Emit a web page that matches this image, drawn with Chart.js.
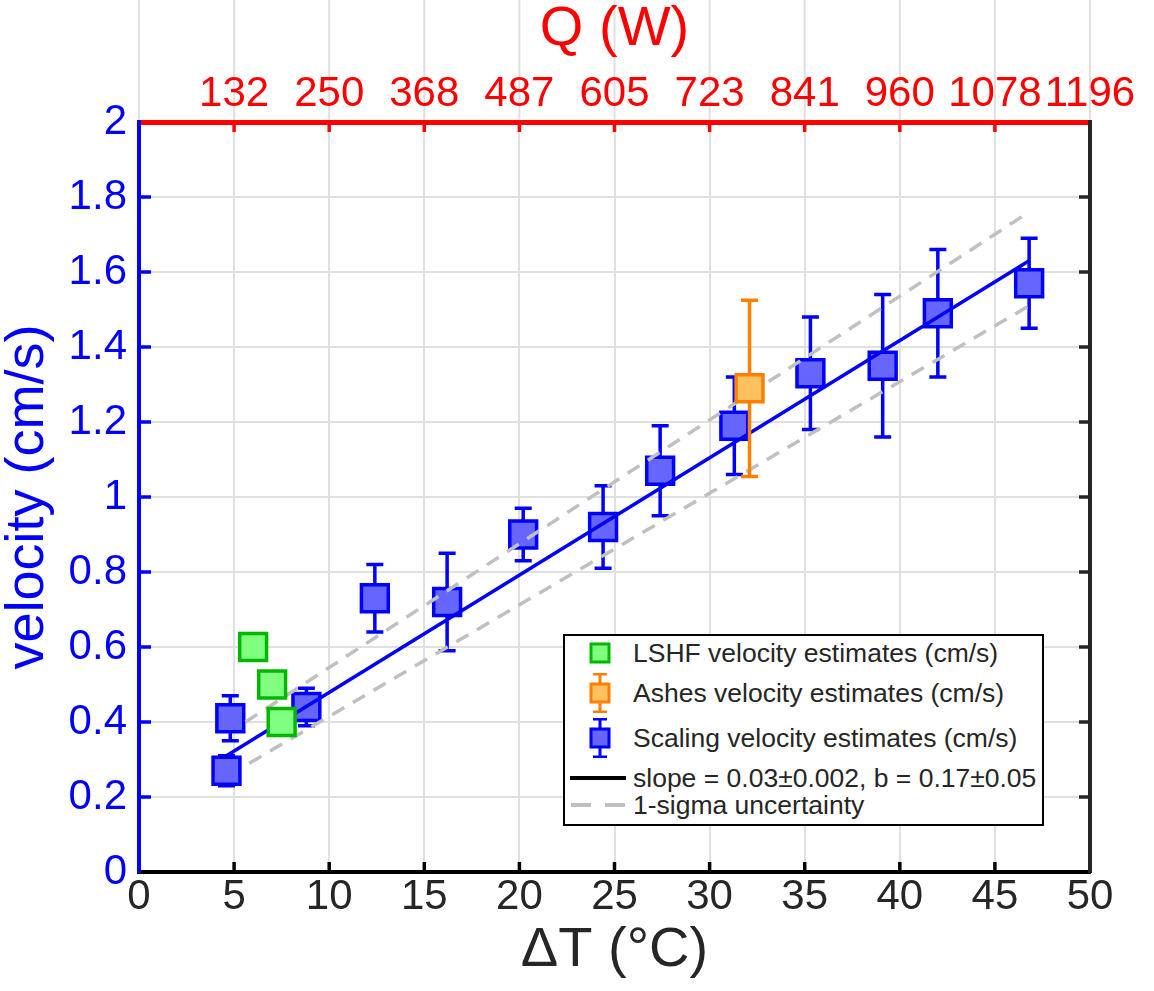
<!DOCTYPE html>
<html>
<head>
<meta charset="utf-8">
<script src="https://cdn.jsdelivr.net/npm/chart.js@4.4.1/dist/chart.umd.min.js"></script>
<style>
  body{margin:0;background:#fff;}
  #wrap{position:relative;width:1154px;height:991px;}
  #legend{position:absolute;left:563px;top:634px;width:477px;height:188px;border:2px solid #000;background:#fff;
    font-family:"Liberation Sans",Arial,Helvetica,sans-serif;font-size:26.5px;color:#262626;}
  .row{position:absolute;left:0;height:40px;width:100%;}
  .row svg{position:absolute;left:0;top:0;}
  .row span{position:absolute;left:68px;top:50%;transform:translateY(-50%);white-space:nowrap;}
</style>
</head>
<body>
<div id="wrap">
  <canvas id="chart" width="1154" height="991"></canvas>
  <div id="legend">
    <div class="row" style="top:-3px">
      <svg width="70" height="40"><rect x="26" y="11" width="18" height="18" fill="#80ff80" stroke="#00b800" stroke-width="3"/></svg>
      <span>LSHF velocity estimates (cm/s)</span>
    </div>
    <div class="row" style="top:37px">
      <svg width="70" height="40"><path d="M35 1V39M28 1H42M28 39H42" stroke="#ff8000" stroke-width="3"/><rect x="26" y="11" width="18" height="18" fill="#ffc060" stroke="#ff8000" stroke-width="3"/></svg>
      <span>Ashes velocity estimates (cm/s)</span>
    </div>
    <div class="row" style="top:82px">
      <svg width="70" height="40"><path d="M35 1V39M28 1H42M28 39H42" stroke="#0000ff" stroke-width="3"/><rect x="26" y="11" width="18" height="18" fill="#6666ff" stroke="#0000ff" stroke-width="3"/></svg>
      <span>Scaling velocity estimates (cm/s)</span>
    </div>
    <div class="row" style="top:122px">
      <svg width="70" height="40"><path d="M5 20H61" stroke="#000" stroke-width="4"/></svg>
      <span>slope = 0.03±0.002, b = 0.17±0.05</span>
    </div>
    <div class="row" style="top:149px">
      <svg width="70" height="40"><path d="M6 20H26M40 20H60" stroke="#c0c0c0" stroke-width="4"/></svg>
      <span>1-sigma uncertainty</span>
    </div>
  </div>
</div>
<script>
// ---------------------------
// DATA
// ---------------------------
const lshfDT   = [6.0, 7.0, 7.5];
const lshfVel  = [0.60, 0.50, 0.40];

const ashesDT  = [32.1];
const ashesVel = [1.29];
const ashesErr = [0.235];

const scalingDT  = [4.6, 4.8, 8.8, 12.4, 16.2, 20.2, 24.4, 27.4, 31.3, 35.3, 39.1, 42.0, 46.8];
const scalingVel = [0.27, 0.41, 0.44, 0.73, 0.72, 0.90, 0.92, 1.07, 1.19, 1.33, 1.35, 1.49, 1.57];
const scalingErr = [0.04, 0.06, 0.05, 0.09, 0.13, 0.07, 0.11, 0.12, 0.13, 0.15, 0.19, 0.17, 0.12];

const fitDT    = [4.6, 46.8];
const fitVel   = [0.31, 1.63];
const upperDT  = [5.6, 46.8];
const upperVel = [0.40, 1.76];
const lowerDT  = [5.8, 46.8];
const lowerVel = [0.29, 1.51];

const xTickValues = [0, 5, 10, 15, 20, 25, 30, 35, 40, 45, 50];
const qLabels     = ["", "132", "250", "368", "487", "605", "723", "841", "960", "1078", "1196"];
const yTickLabels = ["0", "0.2", "0.4", "0.6", "0.8", "1", "1.2", "1.4", "1.6", "1.8", "2"];

// ---------------------------
// HELPERS
// ---------------------------
const pts = (xs, ys) => xs.map((x, i) => ({x, y: ys[i]}));
const GRID = "#e0e0e0";

// error bars, drawn just under each dataset's markers
const errorBars = {
  id: "errorBars",
  beforeDatasetDraw(chart, args){
    const ds = chart.data.datasets[args.index];
    if(!ds.errors) return;
    const {x, y} = chart.scales;
    const ctx = chart.ctx;
    ctx.save();
    ctx.strokeStyle = ds.borderColor;
    ctx.lineWidth = 3.5;
    ds.data.forEach((p, i) => {
      const e = ds.errors[i];
      const px = x.getPixelForValue(p.x);
      const top = y.getPixelForValue(p.y + e);
      const bot = y.getPixelForValue(p.y - e);
      ctx.beginPath();
      ctx.moveTo(px, top); ctx.lineTo(px, bot);
      ctx.moveTo(px - 8.5, top); ctx.lineTo(px + 8.5, top);
      ctx.moveTo(px - 8.5, bot); ctx.lineTo(px + 8.5, bot);
      ctx.stroke();
    });
    ctx.restore();
  }
};

// vertical grid lines continue above the plot, and ticks point inwards
const axisDecor = {
  id: "axisDecor",
  beforeDraw(chart){
    const {ctx, chartArea} = chart;
    const x = chart.scales.x;
    ctx.save();
    ctx.strokeStyle = GRID;
    ctx.lineWidth = 2;
    xTickValues.forEach(v => {
      const px = x.getPixelForValue(v);
      ctx.beginPath(); ctx.moveTo(px, 0); ctx.lineTo(px, chartArea.top); ctx.stroke();
    });
    ctx.restore();
  },
  afterDraw(chart){
    const {ctx, chartArea} = chart;
    const {x, y} = chart.scales;
    ctx.save();
    ctx.lineWidth = 3.5;
    xTickValues.slice(1, -1).forEach(v => {
      const px = x.getPixelForValue(v);
      ctx.strokeStyle = "#000";
      ctx.beginPath(); ctx.moveTo(px, chartArea.bottom); ctx.lineTo(px, chartArea.bottom - 10); ctx.stroke();
      ctx.strokeStyle = "#ff0000";
      ctx.beginPath(); ctx.moveTo(px, chartArea.top); ctx.lineTo(px, chartArea.top + 10); ctx.stroke();
    });
    yTickLabels.slice(1, -1).forEach((_, i) => {
      const py = y.getPixelForValue((i + 1) * 0.2);
      ctx.strokeStyle = "#0000ff";
      ctx.beginPath(); ctx.moveTo(chartArea.left, py); ctx.lineTo(chartArea.left + 12, py); ctx.stroke();
      ctx.strokeStyle = "#262626";
      ctx.beginPath(); ctx.moveTo(chartArea.right, py); ctx.lineTo(chartArea.right - 11, py); ctx.stroke();
    });
    ctx.restore();
  }
};

Chart.defaults.font.family = '"Liberation Sans", Arial, Helvetica, sans-serif';

new Chart(document.getElementById("chart"), {
  type: "scatter",
  data: {
    datasets: [
      { label: "Scaling velocity estimates (cm/s)", data: pts(scalingDT, scalingVel), errors: scalingErr,
        pointStyle: "rect", pointRadius: 19, pointHoverRadius: 19,
        backgroundColor: "#6666ff", borderColor: "#0000ff", borderWidth: 3.5, order: 5 },
      { label: "1-sigma upper", data: pts(upperDT, upperVel), showLine: true, pointRadius: 0,
        borderColor: "#c0c0c0", borderWidth: 3.5, borderDash: [14, 10], order: 4 },
      { label: "1-sigma lower", data: pts(lowerDT, lowerVel), showLine: true, pointRadius: 0,
        borderColor: "#c0c0c0", borderWidth: 3.5, borderDash: [14, 10], order: 4 },
      { label: "fit", data: pts(fitDT, fitVel), showLine: true, pointRadius: 0,
        borderColor: "#0000ff", borderWidth: 3.5, order: 3 },
      { label: "Ashes velocity estimates (cm/s)", data: pts(ashesDT, ashesVel), errors: ashesErr,
        pointStyle: "rect", pointRadius: 19, pointHoverRadius: 19,
        backgroundColor: "#ffc060", borderColor: "#ff8000", borderWidth: 3.5, order: 2 },
      { label: "LSHF velocity estimates (cm/s)", data: pts(lshfDT, lshfVel),
        pointStyle: "rect", pointRadius: 19, pointHoverRadius: 19,
        backgroundColor: "#80ff80", borderColor: "#00b800", borderWidth: 3.5, order: 1 },
    ]
  },
  options: {
    responsive: false,
    animation: false,
    layout: { padding: 0 },
    plugins: { legend: { display: false }, tooltip: { enabled: false } },
    scales: {
      x: {
        type: "linear", position: "bottom", min: 0, max: 50,
        afterFit: s => { s.height = 119; },
        ticks: { stepSize: 5, autoSkip: false, maxRotation: 0, padding: 4,
                 color: "#262626", font: { size: 42, lineHeight: 1 }, callback: v => String(v) },
        grid: { color: GRID, lineWidth: 2, drawTicks: false },
        border: { color: "#000", width: 4 },
        title: { display: true, text: "ΔT (°C)", color: "#262626",
                 font: { size: 56, lineHeight: 1 }, padding: { top: 0, bottom: 12 } }
      },
      x2: {
        type: "linear", position: "top", min: 0, max: 50,
        afterFit: s => { s.height = 122; },
        ticks: { stepSize: 5, autoSkip: false, maxRotation: 0, padding: 7,
                 color: "#ff0000", font: { size: 42, lineHeight: 1 },
                 callback: v => qLabels[Math.round(v / 5)] },
        grid: { display: false, drawTicks: false },
        border: { color: "#ff0000", width: 5 },
        title: { display: true, text: "Q (W)", color: "#ff0000",
                 font: { size: 56, lineHeight: 1 }, padding: { top: 2, bottom: 0 } }
      },
      y: {
        type: "linear", position: "left", min: 0, max: 2,
        afterFit: s => { s.width = 139; },
        ticks: { stepSize: 0.2, autoSkip: false, padding: 12, color: "#0000ff",
                 font: { size: 42, lineHeight: 1 },
                 callback: v => yTickLabels[Math.round(v / 0.2)] },
        grid: { color: GRID, lineWidth: 2, drawTicks: false },
        border: { color: "#0000ff", width: 4 },
        title: { display: true, text: "velocity (cm/s)", color: "#0000ff",
                 font: { size: 54, lineHeight: 1 }, padding: { top: 1, bottom: 0 } }
      },
      y2: {
        type: "linear", position: "right", min: 0, max: 2,
        afterFit: s => { s.width = 64; },
        ticks: { display: false },
        grid: { display: false, drawTicks: false },
        border: { color: "#262626", width: 4 }
      }
    }
  },
  plugins: [errorBars, axisDecor]
});
</script>
</body>
</html>
